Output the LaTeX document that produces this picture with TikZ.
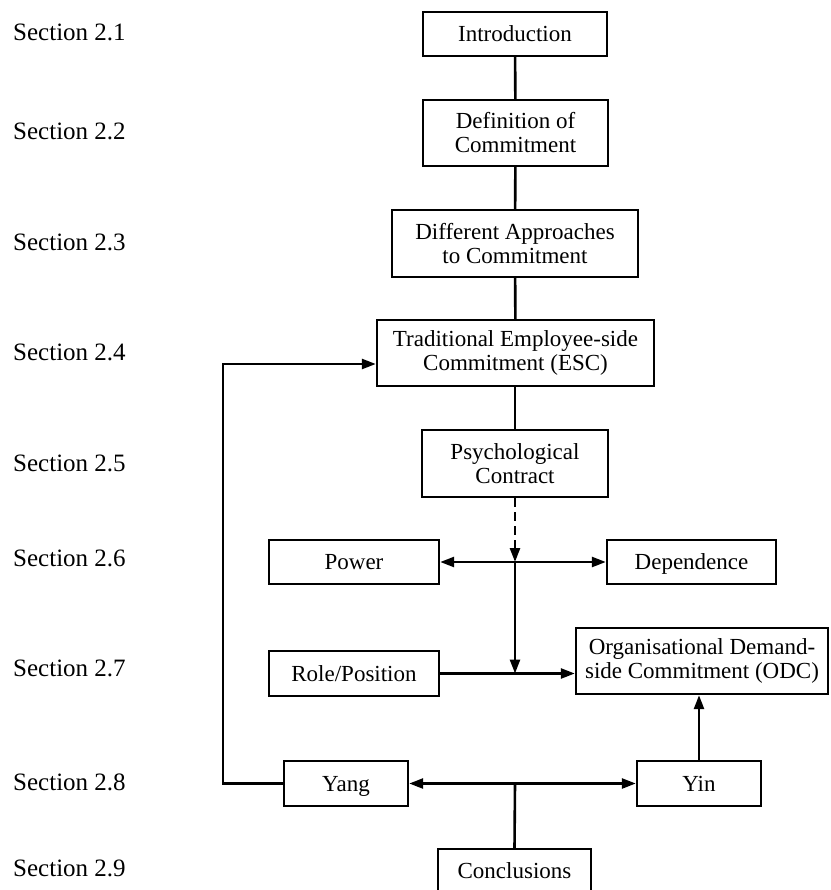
\documentclass[tikz,border=0pt]{standalone}
\usepackage{fontspec}
\setmainfont{Liberation Serif}
\usetikzlibrary{arrows.meta}
\begin{document}
\begin{tikzpicture}[x=1pt,y=-1pt,
  box/.style={draw, line width=2.4pt, inner sep=0pt, align=center, font=\fontsize{23}{24}\selectfont},
  one/.style={text height=15.3pt, text depth=0pt},
  sec/.style={anchor=west, inner sep=0pt, font=\fontsize{25}{27}\selectfont},
  conn/.style={line width=2.6pt},
  tip/.tip={Triangle[length=14pt,width=10pt]},
  arr/.style={conn, -tip},
  darr/.style={conn, tip-tip},
  dashconn/.style={conn, -tip, dash pattern=on 9pt off 5pt}]
\useasboundingbox (0,0) rectangle (830,890);
\clip (0,0) rectangle (830,890);

% section labels
\node[sec] (s1) at (13,32) {Section 2.1};
\node[sec] (s2) at (13,131) {Section 2.2};
\node[sec] (s3) at (13,242) {Section 2.3};
\node[sec] (s4) at (13,352) {Section 2.4};
\node[sec] (s5) at (13,463) {Section 2.5};
\node[sec] (s6) at (13,558) {Section 2.6};
\node[sec] (s7) at (13,668) {Section 2.7};
\node[sec] (s8) at (13,782) {Section 2.8};
\node[sec] (s9) at (13,868) {Section 2.9};

% boxes
\node[box, one, minimum width=184pt, minimum height=44pt] (intro) at (515,34) {Introduction};
\node[box, minimum width=185pt, minimum height=66pt] (def) at (515.5,133) {Definition of\\Commitment};
\node[box, minimum width=246pt, minimum height=67pt] (diff) at (515,243.5) {Different Approaches\\to Commitment};
\node[box, minimum width=277pt, minimum height=66pt] (esc) at (515.5,353) {Traditional Employee-side\\Commitment (ESC)};
\node[box, minimum width=186pt, minimum height=67pt] (psych) at (515,463.5) {Psychological\\Contract};
\node[box, one, minimum width=170pt, minimum height=44pt] (power) at (354,562) {Power};
\node[box, one, minimum width=169pt, minimum height=44pt] (dep) at (691.5,562) {Dependence};
\node[box, one, minimum width=170pt, minimum height=45pt] (role) at (354,673.5) {Role/Position};
\node[box, minimum width=252pt, minimum height=66pt] (odc) at (702,661) {Organisational Demand-\\side Commitment (ODC)};
\node[box, one, minimum width=124pt, minimum height=45pt] (yang) at (346,783.5) {Yang};
\node[box, one, minimum width=124pt, minimum height=45pt] (yin) at (699,783.5) {Yin};
\node[box, one, minimum width=153pt, minimum height=44pt] (concl) at (514.5,871) {Conclusions};

% junctions
\coordinate (j1) at (515,562);
\coordinate (j2) at (515,673.5);
\coordinate (j3) at (515,783.5);
\coordinate (loop) at (223,364);

% connectors
\draw[conn] (intro) -- (def);
\draw[conn] (def) -- (diff);
\draw[conn] (diff) -- (esc);
\draw[conn] (esc.south -| psych.north) -- (psych.north);
\draw[dashconn] (psych.south) -- (j1);
\draw[darr] (power.east) -- (dep.west);
\draw[arr] (j1) -- (j2);
\draw[arr] (role.east) -- (role.east -| odc.west);
\draw[arr] (yin.north) -- (yin.north |- odc.south);
\draw[darr] (yang.east) -- (yin.west);
\draw[conn] (concl.north) -- (j3);
\draw[arr] (yang.west) -| (loop) -- (loop -| esc.west);
\end{tikzpicture}
\end{document}
